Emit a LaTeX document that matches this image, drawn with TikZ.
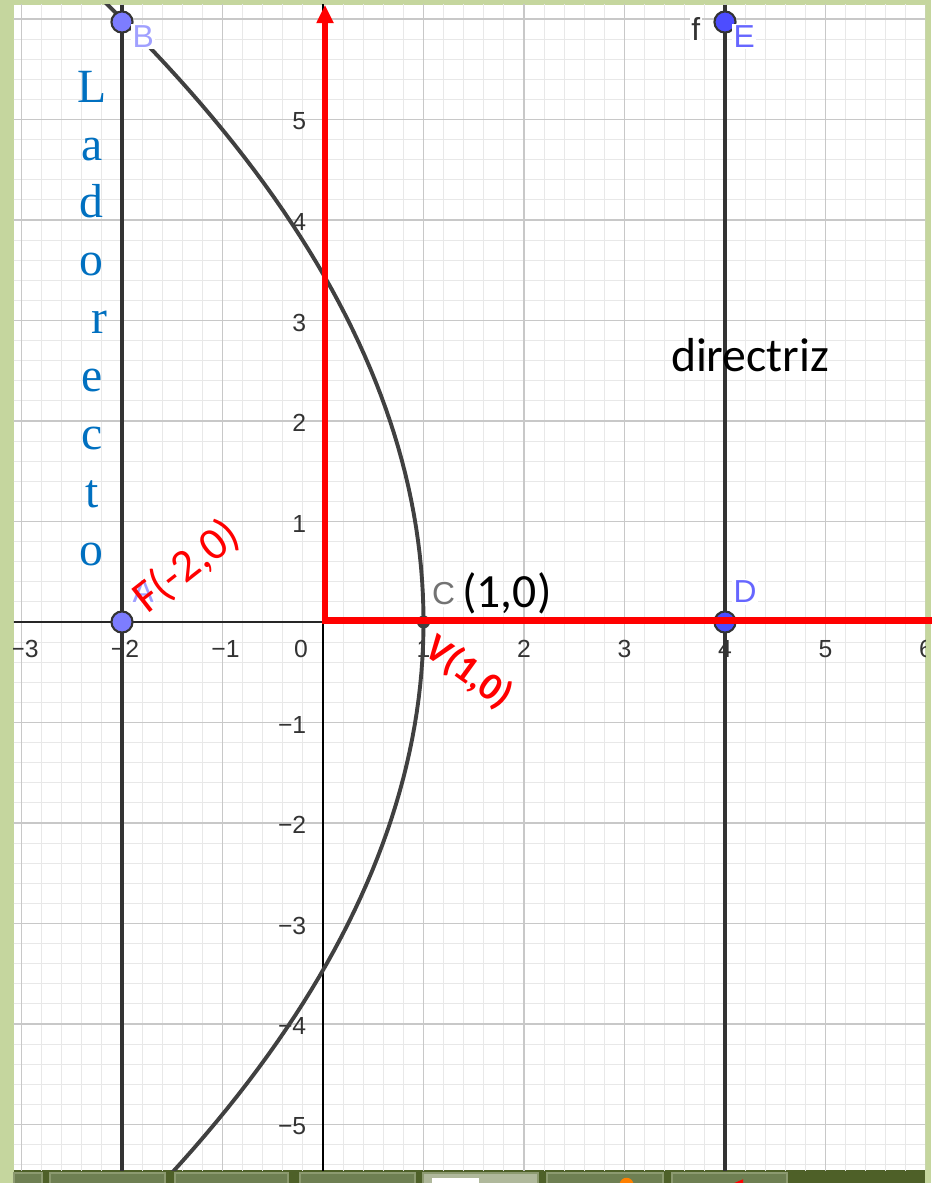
\documentclass[tikz,border=0pt]{standalone}
\usepackage{fontspec}
\setmainfont{Liberation Sans}
\newfontfamily\calfont{Carlito}
\newfontfamily\serfont{Liberation Serif}
\usetikzlibrary{positioning,arrows.meta}
\definecolor{framegreen}{RGB}{197,214,158}
\definecolor{gridmajor}{RGB}{200,200,200}
\definecolor{gridminor}{RGB}{232,232,232}
\definecolor{curvegray}{RGB}{64,64,64}
\definecolor{ptlight}{RGB}{125,125,255}
\definecolor{ptdark}{RGB}{77,77,255}
\definecolor{lablight}{RGB}{160,160,255}
\definecolor{labdark}{RGB}{102,102,255}
\definecolor{rectoblue}{RGB}{0,112,192}
\definecolor{barolive}{RGB}{78,96,40}
\definecolor{tabolive}{RGB}{110,127,82}
\definecolor{tabedge}{RGB}{140,154,112}
\tikzset{
  ticklabel/.style={font=\fontsize{7}{8}\selectfont, text=black!80, inner sep=0pt},
  ptlabel/.style={font=\fontsize{9}{10}\selectfont, fill=white, inner sep=0.5pt},
  bigpoint/.style={circle, draw=black!80, line width=0.6pt, minimum size=2.1mm, inner sep=0pt},
  smallpoint/.style={circle, fill=curvegray, minimum size=1.3mm, inner sep=0pt},
  gridline/.style={line width=1.2pt, black!80},
  parabline/.style={line width=1.1pt, curvegray},
  redaxis/.style={red, line width=1.7pt, -{Triangle[length=1.8mm, width=1.6mm]}},
  bigtext/.style={font=\calfont\fontsize{13.5}{15}\selectfont, inner sep=0pt, anchor=base},
  redtext/.style={font=\calfont\fontsize{13}{15}\selectfont, text=red, inner sep=0pt},
  rectoletter/.style={font=\serfont\fontsize{13.5}{15}\selectfont, text=rectoblue, inner sep=0pt, anchor=base}
}
\begin{document}
\begin{tikzpicture}
  \useasboundingbox (-3.214,-5.582) rectangle (6.050,6.189);
  % frame and bottom bar
  \fill[framegreen] (-3.214,-5.582) rectangle (6.050,6.189);
  \fill[white] (-3.075,-5.453) rectangle (5.99,6.14);
  \fill[barolive] (-3.075,-5.582) rectangle (5.99,-5.453);
  \foreach \a/\b in {-3.075/-2.796, -2.716/-1.572, -1.473/-0.348, -0.229/0.915, 2.229/3.383, 3.473/4.617}
    \draw[tabolive!100, fill=tabolive, draw=tabedge, line width=0.4pt] (\a,-5.60) rectangle (\b,-5.483);
  \draw[fill=tabedge!70!white, draw=tabedge, line width=0.4pt] (0.995,-5.60) rectangle (2.139,-5.483);
  \fill[white] (1.08,-5.60) rectangle (1.55,-5.53);
  \fill[orange] (3.02,-5.60) circle (0.07);
  \fill[red] (4.05,-5.60) -- (4.18,-5.545) -- (4.18,-5.60) -- cycle;

  \begin{scope}
    \clip (-3.075,-5.453) rectangle (5.99,6.14);
    % grid
    \draw[gridminor, line width=0.3pt] (-3.2,-5.6) grid[step=0.2] (6.2,6.2);
    \draw[gridmajor, line width=0.45pt] (-3.2,-5.6) grid[step=1] (6.2,6.2);
    % axes
    \draw[black!85, line width=0.6pt] (-3.1,0) -- (6.1,0);
    \draw[black, line width=0.45pt] (0,-5.5) -- (0,6.2);
    % tick labels
    \foreach \x/\t in {-3/−3, -2/−2, -1/−1}
      \node[ticklabel] (xl\x) at (\x+0.03,-0.27) {\t};
    \node[ticklabel] (xl0) at (-0.22,-0.27) {0};
    \foreach \x in {1,2,3,4,5,6}
      \node[ticklabel] (xl\x) at (\x,-0.27) {\x};
    \foreach \y/\t in {5/5, 4/4, 3/3, 2/2, 1/1, -1/−1, -2/−2, -3/−3, -4/−4, -5/−5}
      \node[ticklabel, anchor=east] (yl\y) at (-0.16,\y-0.02) {\t};
    % latus rectum line and directrix
    \coordinate (ltop) at (-2,6.14);
    \coordinate (lbot) at (-2,-5.5);
    \coordinate (ftop) at (4,6.14);
    \coordinate (fbot) at (4,-5.5);
    \draw[gridline] (ltop) -- (lbot);
    \draw[gridline] (ftop) -- (fbot);
    % parabola
    \draw[parabline] plot[domain=-5.5:6.2, samples=90, variable=\t] ({1-\t*\t/12},\t);
  \end{scope}

  % points
  \node[bigpoint, fill=ptlight] (A) at (-2,0) {};
  \node[bigpoint, fill=ptlight] (B) at (-2,5.97) {};
  \node[bigpoint, fill=ptdark] (E) at (4,5.97) {};
  \node[bigpoint, fill=ptdark] (D) at (4,0) {};
  \node[smallpoint] (C) at (1,0) {};

  % red axes
  \coordinate (O) at (0.02,0.015);
  \coordinate (xend) at (6.06,0.015);
  \coordinate (yend) at (0.02,6.14);
  \draw[redaxis] (xend) -- (O) -- (yend);

  % point labels
  \node[ptlabel, text=lablight, anchor=base] (Alab) at (-1.79,0.19) {A};
  \node[ptlabel, text=lablight, anchor=base] (Blab) at (-1.79,5.72) {B};
  \node[ptlabel, text=labdark, anchor=base] (Elab) at (4.19,5.72) {E};
  \node[ptlabel, text=labdark, anchor=base] (Dlab) at (4.2,0.19) {D};
  \node[ptlabel, text=black!55, anchor=base] (Clab) at (1.2,0.17) {C};
  \node[ptlabel, text=black!80, anchor=base] (flab) at (3.71,5.79) {f};

  % texts
  \node[bigtext] (vert) at (1.83,0.14) {(1,0)};
  \node[bigtext] (dir) at (4.25,2.488) {directriz};
  \node[redtext, rotate=38] (foco) at (-1.36,0.55) {F(-2,0)};
  \node[redtext, font=\calfont\bfseries\fontsize{11}{13}\selectfont, rotate=-36] (vlab) at (1.45,-0.50) {V(1,0)};
  \foreach \l/\k in {L/0, a/1, d/2, o/3, e/5, c/6, t/7, o/8}
    \node[rectoletter] (lr\k) at (-2.30,5.174-0.577*\k) {\l};
  \node[rectoletter] (lr4) at (-2.22,5.174-0.577*4) {r};
\end{tikzpicture}
\end{document}
